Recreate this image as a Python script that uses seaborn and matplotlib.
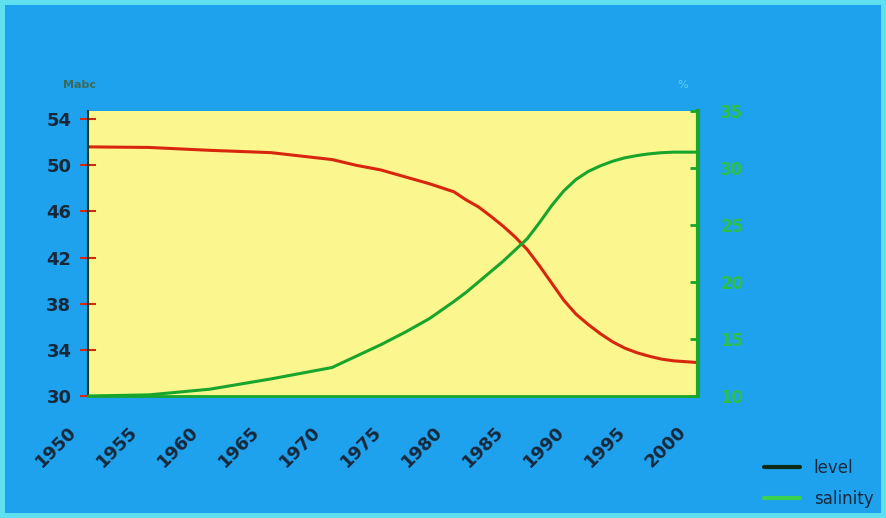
import pandas as pd
import seaborn as sns
import matplotlib.pyplot as plt
import matplotlib.transforms as mtransforms
from matplotlib.lines import Line2D

# values
years = [1950, 1955, 1960, 1965, 1970, 1972, 1974, 1976, 1978, 1980,
         1981, 1982, 1983, 1984, 1985, 1986, 1987, 1988, 1989, 1990,
         1991, 1992, 1993, 1994, 1995, 1996, 1997, 1998, 2000]
level = [51.6, 51.55, 51.3, 51.1, 50.5, 50.0, 49.6, 49.0, 48.4, 47.7,
         47.0, 46.4, 45.6, 44.75, 43.8, 42.7, 41.3, 39.8, 38.3, 37.1,
         36.2, 35.4, 34.7, 34.15, 33.75, 33.45, 33.2, 33.05, 32.9]
salinity = [10.0, 10.1, 10.6, 11.5, 12.5, 13.5, 14.5, 15.6, 16.8, 18.3,
            19.1, 20.0, 20.9, 21.8, 22.8, 23.8, 25.2, 26.7, 28.0, 29.0,
            29.7, 30.2, 30.6, 30.9, 31.1, 31.25, 31.35, 31.4, 31.4]
x_ticks = list(range(1950, 2001, 5))
left_ticks = [30, 34, 38, 42, 46, 50, 54]
right_ticks = [10, 15, 20, 25, 30, 35]

df = pd.DataFrame({'year': years, 'level': level, 'salinity': salinity})

sns.set_style('white')
plt.rcParams['font.family'] = ['DejaVu Sans']

BLUE = '#1fa2ee'
YELLOW = '#fbf68e'
RED = '#d8260e'
GREEN = '#18a52c'
DARK = '#16283a'

fig = plt.figure(figsize=(8.86, 5.18), dpi=100, facecolor=BLUE)
fig.patch.set_edgecolor('#5fe0f0')
fig.patch.set_linewidth(6)
ax = fig.add_axes([0.0993, 0.2355, 0.6885, 0.55])
ax.set_facecolor(YELLOW)

sns.lineplot(data=df, x='year', y='level', ax=ax, color=RED, linewidth=2.2)
ax2 = ax.twinx()
sns.lineplot(data=df, x='year', y='salinity', ax=ax2, color=GREEN, linewidth=2.2)

ax.set_xlim(1950, 2000)
ax.set_ylim(30, 54.7)
ax2.set_ylim(10, 35)

ax.set_xticks(x_ticks)
ax.set_xticklabels([str(t) for t in x_ticks], rotation=45, ha='right',
                   rotation_mode='anchor', fontsize=13, fontweight='bold', color=DARK)
ax.set_yticks(left_ticks)
ax.set_yticklabels([str(t) for t in left_ticks], fontsize=13, fontweight='bold', color=DARK)
ax2.set_yticks(right_ticks)
ax2.set_yticklabels([str(t) for t in right_ticks], fontsize=12, fontweight='bold', color='#2cc048')

ax.tick_params(axis='y', direction='inout', length=12, width=1.5, color=RED, pad=6)
ax.tick_params(axis='x', direction='out', length=3, color=GREEN, pad=16)
ax2.tick_params(axis='y', direction='in', length=6, width=2, color=GREEN, pad=16)

# nudge the slanted year labels to the left, as in the reference
shift = mtransforms.ScaledTranslation(-0.21, 0, fig.dpi_scale_trans)
for lbl in ax.get_xticklabels():
    lbl.set_transform(lbl.get_transform() + shift)

ax.set_xlabel('')
ax.set_ylabel('')
ax2.set_ylabel('')
ax.spines['top'].set_visible(False)
ax2.spines['top'].set_visible(False)
ax.spines['left'].set_color('#1a3a1a')
ax.spines['left'].set_linewidth(1.5)
ax.spines['bottom'].set_color(GREEN)
ax.spines['bottom'].set_linewidth(2)
ax2.spines['left'].set_visible(False)
ax2.spines['bottom'].set_visible(False)
ax2.spines['right'].set_color(GREEN)
ax2.spines['right'].set_linewidth(3)
ax.spines['right'].set_visible(False)

fig.text(0.071, 0.83, 'Mabc', fontsize=8, fontweight='bold', color='#3a6a5a')
fig.text(0.765, 0.83, '%', fontsize=8, color='#5ad0e8')

handles = [Line2D([], [], color='#0e2a14', linewidth=3),
           Line2D([], [], color='#3cd050', linewidth=3)]
fig.legend(handles, ['level', 'salinity'], loc='lower left',
           bbox_to_anchor=(0.845, -0.01), frameon=False, fontsize=12,
           labelcolor=DARK, handlelength=2.2, labelspacing=0.8)

fig.savefig('out.png', dpi=100, facecolor=fig.get_facecolor(),
            edgecolor=fig.patch.get_edgecolor())
